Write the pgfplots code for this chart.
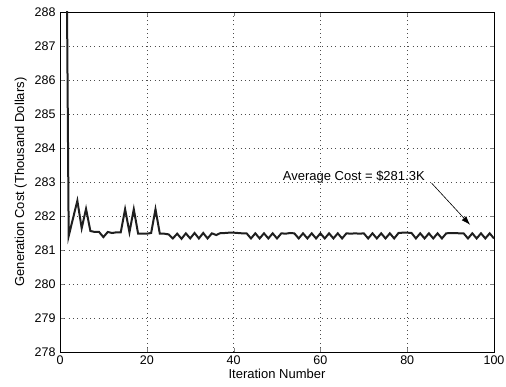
\documentclass[border=0pt]{standalone}
\usepackage{fontspec}
\setmainfont{Liberation Sans}
\usepackage{pgfplots}
\pgfplotsset{compat=1.18}
\usetikzlibrary{arrows.meta}
\begin{document}
\begin{tikzpicture}
\fontsize{13}{15}\selectfont
\path[use as bounding box] (-60pt,-34pt) rectangle (446pt,352pt);
\begin{axis}[
  at={(0,0)}, anchor=south west,
  scale only axis, width=434pt, height=340pt,
  xmin=0, xmax=100, ymin=278, ymax=288,
  xtick={0,20,...,100}, ytick={278,279,...,288},
  tick align=inside, xtick pos=both, ytick pos=both,
  major tick length=4pt,
  grid=major,
  grid style={black!70, line width=0.6pt, dash pattern=on 0.8pt off 3.5pt},
  axis line style={line width=0.9pt},
  /pgf/number format/assume math mode=true,
  ticklabel style={font=\fontsize{12.5}{14}\selectfont},
  label style={font=\fontsize{13}{15}\selectfont},
  xlabel={Iteration Number},
  ylabel={Generation Cost (Thousand Dollars)},
  xlabel style={yshift=4pt},
  ylabel style={yshift=-1pt},
  xticklabel style={yshift=1pt},
  clip=true,
]
\addplot[line width=2pt, color=black!88, line join=miter] coordinates {
(1,299) (2,281.41) (3,281.93) (4,282.45) (5,281.64) (6,282.21) (7,281.56) (8,281.53) (9,281.53) (10,281.38)
(11,281.53) (12,281.50) (13,281.52) (14,281.52) (15,282.20) (16,281.52) (17,282.20) (18,281.48) (19,281.48) (20,281.48)
(21,281.50) (22,282.20) (23,281.48) (24,281.48) (25,281.46) (26,281.34) (27,281.48) (28,281.33) (29,281.49) (30,281.34)
(31,281.50) (32,281.34) (33,281.50) (34,281.34) (35,281.49) (36,281.44) (37,281.50) (38,281.50) (39,281.51) (40,281.51)
(41,281.50) (42,281.49) (43,281.49) (44,281.34) (45,281.49) (46,281.34) (47,281.49) (48,281.34) (49,281.49) (50,281.34)
(51,281.49) (52,281.48) (53,281.50) (54,281.49) (55,281.34) (56,281.49) (57,281.34) (58,281.49) (59,281.34) (60,281.49)
(61,281.34) (62,281.49) (63,281.34) (64,281.49) (65,281.34) (66,281.49) (67,281.48) (68,281.49) (69,281.48) (70,281.49)
(71,281.34) (72,281.49) (73,281.34) (74,281.49) (75,281.34) (76,281.49) (77,281.34) (78,281.50) (79,281.51) (80,281.51)
(81,281.50) (82,281.34) (83,281.49) (84,281.34) (85,281.49) (86,281.34) (87,281.49) (88,281.34) (89,281.49) (90,281.50)
(91,281.50) (92,281.49) (93,281.49) (94,281.34) (95,281.49) (96,281.34) (97,281.49) (98,281.34) (99,281.49) (100,281.34)
};
\node[font=\fontsize{13}{15}\selectfont] at (axis cs:67.7,283.15) {Average Cost = \$281.3K};
\draw[-{Latex[length=9pt,width=6pt]}, line width=0.6pt] (axis cs:85.6,282.97) -- (axis cs:94.5,281.74);
\end{axis}
\end{tikzpicture}
\end{document}
